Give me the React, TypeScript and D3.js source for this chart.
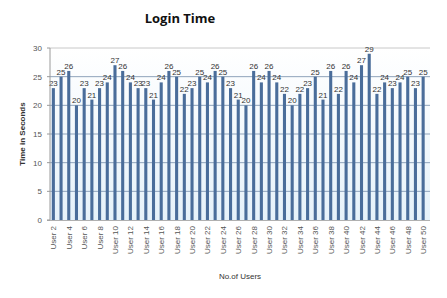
import React, { useRef, useEffect } from 'react';
import * as d3 from 'd3';

const users = d3.range(2, 51).map(i => `User ${i}`);
const loginTimes = [
  23, 25, 26, 20, 23, 21, 23, 24, 27, 26,
  24, 23, 23, 21, 24, 26, 25, 22, 23, 25,
  24, 26, 25, 23, 21, 20, 26, 24, 26, 24,
  22, 20, 22, 23, 25, 21, 26, 22, 26, 24,
  27, 29, 22, 24, 23, 24, 25, 23, 25,
];
const yTicks = [0, 5, 10, 15, 20, 25, 30];

const W = 447;
const H = 298;
const left = 50, right = 427, top = 48, bottom = 220;

const App = () => {
  const ref = useRef<SVGSVGElement>(null);

  useEffect(() => {
    const svg = d3.select(ref.current);
    svg.selectAll('*').remove();

    const x = d3.scaleBand().domain(users).range([left - 0.5, right]).paddingInner(0.6).paddingOuter(0.3);
    const y = d3.scaleLinear().domain([0, 30]).range([bottom, top]);

    const defs = svg.append('defs');
    const grad = defs.append('linearGradient').attr('id', 'bg').attr('x1', 0).attr('y1', 0).attr('x2', 0).attr('y2', 1);
    grad.append('stop').attr('offset', '0%').attr('stop-color', '#ffffff');
    grad.append('stop').attr('offset', '100%').attr('stop-color', '#e6f2fa');

    // plot background
    svg.append('rect')
      .attr('x', left).attr('y', top)
      .attr('width', right - left + 3).attr('height', bottom - top)
      .attr('fill', 'url(#bg)');

    // gridlines
    svg.append('g')
      .selectAll('line')
      .data(yTicks.filter(t => t > 0))
      .enter()
      .append('line')
      .attr('x1', left).attr('x2', right + 3)
      .attr('y1', d => y(d)).attr('y2', d => y(d))
      .attr('stroke', d => (d === 30 ? '#c8c8c8' : '#8fa3bb'))
      .attr('stroke-width', 1);

    // bars
    svg.append('g')
      .selectAll('rect')
      .data(loginTimes)
      .enter()
      .append('rect')
      .attr('x', (d, i) => x(users[i])!)
      .attr('y', d => y(d))
      .attr('width', x.bandwidth())
      .attr('height', d => bottom - y(d))
      .attr('fill', '#4a6d9a');

    // value labels
    svg.append('g')
      .selectAll('text')
      .data(loginTimes)
      .enter()
      .append('text')
      .attr('x', (d, i) => x(users[i])! + x.bandwidth() / 2)
      .attr('y', d => y(d) - 2)
      .attr('text-anchor', 'middle')
      .attr('font-family', 'Liberation Sans, Arial, sans-serif')
      .attr('font-size', 8)
      .attr('fill', '#333')
      .text(d => d);

    // axes lines
    svg.append('line')
      .attr('x1', left).attr('x2', left)
      .attr('y1', top).attr('y2', bottom)
      .attr('stroke', '#9a9a9a');
    svg.append('line')
      .attr('x1', left - 3).attr('x2', right + 3)
      .attr('y1', bottom + 0.5).attr('y2', bottom + 0.5)
      .attr('stroke', '#b0b0b0');

    // y ticks
    const yAxis = svg.append('g');
    yAxis.selectAll('line')
      .data(yTicks)
      .enter()
      .append('line')
      .attr('x1', left - 3).attr('x2', left)
      .attr('y1', d => y(d)).attr('y2', d => y(d))
      .attr('stroke', '#9a9a9a');
    yAxis.selectAll('text')
      .data(yTicks)
      .enter()
      .append('text')
      .attr('x', left - 8)
      .attr('y', d => y(d) + 3)
      .attr('text-anchor', 'end')
      .attr('font-family', 'Liberation Sans, Arial, sans-serif')
      .attr('font-size', 8)
      .attr('fill', '#555')
      .text(d => d);

    // x labels
    svg.append('g')
      .selectAll('text')
      .data(users.filter((u, i) => i % 2 === 0))
      .enter()
      .append('text')
      .attr('transform', d => `translate(${x(d)! + x.bandwidth() / 2 + 3},${bottom + 6}) rotate(-90)`)
      .attr('text-anchor', 'end')
      .attr('font-family', 'Liberation Sans, Arial, sans-serif')
      .attr('font-size', 8)
      .attr('fill', '#555')
      .text(d => d);

    // titles
    svg.append('text')
      .attr('x', 180).attr('y', 23)
      .attr('text-anchor', 'middle')
      .attr('font-family', 'Open Sans, sans-serif')
      .attr('font-weight', 'bold')
      .attr('font-size', 13)
      .attr('fill', '#111')
      .text('Login Time');

    svg.append('text')
      .attr('transform', `translate(25,${(top + bottom) / 2}) rotate(-90)`)
      .attr('text-anchor', 'middle')
      .attr('font-family', 'Liberation Sans, Arial, sans-serif')
      .attr('font-weight', 'bold')
      .attr('font-size', 8)
      .attr('fill', '#333')
      .text('Time in Seconds');

    svg.append('text')
      .attr('x', 240).attr('y', 279)
      .attr('text-anchor', 'middle')
      .attr('font-family', 'Liberation Sans, Arial, sans-serif')
      .attr('font-size', 8)
      .attr('fill', '#333')
      .text('No.of Users');
  }, []);

  return (
    <div style={{ position: 'absolute', left: 0, top: 0 }}>
      <svg ref={ref} width={W} height={H} style={{ display: 'block', background: '#fff' }}></svg>
    </div>
  );
};

export default App;
